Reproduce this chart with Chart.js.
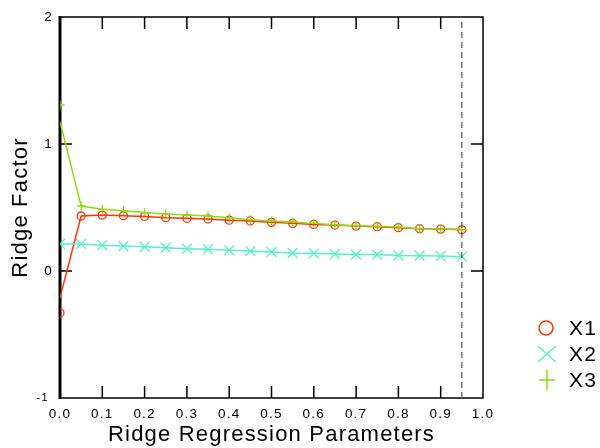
<!DOCTYPE html>
<html>
<head>
<meta charset="utf-8">
<script src="https://cdn.jsdelivr.net/npm/chart.js@4.4.1/dist/chart.umd.min.js"></script>
<style>
  html, body { margin: 0; padding: 0; background: #fff; }
  #wrap { width: 600px; height: 448px; }
</style>
</head>
<body>
<div id="wrap"><canvas id="ridgeChart" width="600" height="448"></canvas></div>
<script>
/* =====================================================
   DATA
===================================================== */
const params = [0, 0.05, 0.1, 0.15, 0.2, 0.25, 0.3, 0.35, 0.4, 0.45,
                0.5, 0.55, 0.6, 0.65, 0.7, 0.75, 0.8, 0.85, 0.9, 0.95];

// marker values
const x1 = [-0.33, 0.433, 0.44, 0.435, 0.43, 0.42, 0.415, 0.41, 0.40, 0.394,
            0.383, 0.375, 0.367, 0.362, 0.354, 0.349, 0.341, 0.333, 0.33, 0.325];
const x2 = [0.213, 0.213, 0.202, 0.197, 0.191, 0.184, 0.176, 0.171, 0.163, 0.157,
            0.15, 0.142, 0.139, 0.134, 0.129, 0.129, 0.123, 0.121, 0.118, 0.113];
const x3 = [1.307, 0.512, 0.486, 0.475, 0.46, 0.449, 0.441, 0.433, 0.42, 0.404,
            0.394, 0.386, 0.375, 0.365, 0.357, 0.352, 0.346, 0.333, 0.33, 0.328];

// fitted curve values (differ from markers only at the first point)
const x1Curve = [-0.21].concat(x1.slice(1));
const x2Curve = x2.slice();
const x3Curve = [1.176].concat(x3.slice(1));

const xTicks = [0, 0.1, 0.2, 0.3, 0.4, 0.5, 0.6, 0.7, 0.8, 0.9, 1.0];
const yTicks = [-1, 0, 1, 2];
const cutoff = 0.95;

const seriesNames = ["X1", "X2", "X3"];
const colors = ["#ff3300", "#55efc8", "#88e010"];
const markers = ["circle", "crossRot", "cross"];

const FONT = "'Liberation Sans', Arial, sans-serif";
const pts = arr => params.map((p, i) => ({ x: p, y: arr[i] }));

/* =====================================================
   FRAME + INWARD TICKS + LEGEND
===================================================== */
const framePlugin = {
  id: "frame",
  beforeDraw(chart) {
    // the original text is set a little wide
    chart.ctx.letterSpacing = "1.2px";
  },
  beforeDatasetsDraw(chart) {
    const { ctx, chartArea: a, scales } = chart;
    const xs = scales.x, ys = scales.y;
    ctx.letterSpacing = "0px";
    ctx.save();
    ctx.strokeStyle = "#000";
    ctx.lineWidth = 1.5;
    ctx.strokeRect(a.left, a.top, a.right - a.left, a.bottom - a.top);
    ctx.lineWidth = 3;
    ctx.beginPath();
    ctx.moveTo(a.left, a.top - 1);
    ctx.lineTo(a.left, a.bottom + 1);
    ctx.stroke();

    ctx.lineWidth = 1.5;
    ctx.beginPath();
    xTicks.slice(1, -1).forEach(v => {
      const px = xs.getPixelForValue(v);
      ctx.moveTo(px, a.top); ctx.lineTo(px, a.top + 12);
      ctx.moveTo(px, a.bottom); ctx.lineTo(px, a.bottom - 12);
    });
    yTicks.slice(1, -1).forEach(v => {
      const py = ys.getPixelForValue(v);
      ctx.moveTo(a.left, py); ctx.lineTo(a.left + 12, py);
      ctx.moveTo(a.right, py); ctx.lineTo(a.right - 12, py);
    });
    ctx.stroke();
    ctx.restore();
  },
  afterDraw(chart) {
    const { ctx } = chart;
    ctx.save();
    ctx.letterSpacing = "1.2px";
    ctx.font = "21px " + FONT;
    ctx.textBaseline = "middle";
    ctx.fillStyle = "#000";
    const rows = [328, 354, 380];
    seriesNames.forEach((name, i) => {
      const y = rows[i];
      const cx = 547;
      ctx.strokeStyle = colors[i];
      ctx.lineWidth = 1.5;
      ctx.beginPath();
      if (markers[i] === "circle") {
        ctx.ellipse(cx - 1, y, 7, 7, 0, 0, Math.PI * 2);
      } else if (markers[i] === "crossRot") {
        ctx.moveTo(cx - 9, y - 8); ctx.lineTo(cx + 9, y + 8);
        ctx.moveTo(cx + 9, y - 8); ctx.lineTo(cx - 9, y + 8);
      } else {
        ctx.moveTo(cx - 8, y); ctx.lineTo(cx + 8, y);
        ctx.moveTo(cx, y - 10); ctx.lineTo(cx, y + 10);
      }
      ctx.stroke();
      ctx.fillText(name, 569, y + 1);
    });
    ctx.restore();
  }
};

/* =====================================================
   CHART
===================================================== */
const curveSet = (arr, i) => ({
  label: seriesNames[i] + " curve",
  data: pts(arr),
  borderColor: colors[i],
  borderWidth: 1.5,
  pointRadius: 0,
  showLine: true,
  tension: 0
});
const markerSet = (arr, i) => ({
  label: seriesNames[i],
  data: pts(arr),
  borderColor: colors[i],
  backgroundColor: "rgba(0,0,0,0)",
  pointStyle: markers[i],
  pointRadius: [4, 7, 4.5][i],
  pointBorderWidth: 1.3,
  showLine: false
});

new Chart(document.getElementById("ridgeChart"), {
  type: "scatter",
  data: {
    datasets: [
      {
        label: "cutoff",
        data: [{ x: cutoff, y: -1 }, { x: cutoff, y: 2 }],
        borderColor: "#555",
        borderWidth: 1.2,
        borderDash: [6, 4],
        pointRadius: 0,
        showLine: true
      },
      curveSet(x2Curve, 1),
      curveSet(x3Curve, 2),
      curveSet(x1Curve, 0),
      markerSet(x2, 1),
      markerSet(x3, 2),
      markerSet(x1, 0)
    ]
  },
  options: {
    responsive: false,
    animation: false,
    layout: { padding: { top: 17, right: 117, left: 0, bottom: 0 } },
    plugins: { legend: { display: false }, tooltip: { enabled: false } },
    scales: {
      x: {
        type: "linear",
        min: 0, max: 1,
        afterBuildTicks: s => { s.ticks = xTicks.map(v => ({ value: v })); },
        afterFit: s => { s.height = 50; },
        grid: { display: false, drawTicks: false },
        border: { display: false },
        ticks: {
          padding: 8,
          color: "#000",
          font: { family: FONT, size: 13.5 },
          callback: v => Number(v).toFixed(1)
        },
        title: {
          display: true,
          text: "Ridge Regression Parameters",
          color: "#000",
          padding: 0,
          font: { family: FONT, size: 22 }
        }
      },
      y: {
        type: "linear",
        min: -1, max: 2,
        afterBuildTicks: s => { s.ticks = yTicks.map(v => ({ value: v })); },
        afterFit: s => { s.width = 60; },
        grid: { display: false, drawTicks: false },
        border: { display: false },
        ticks: {
          padding: 7,
          color: "#000",
          font: c => ({ family: FONT, size: c.tick && c.tick.value === -1 ? 11 : 13.5 }),
          callback: v => (v === -1 ? "-1 " : String(v))
        },
        title: {
          display: true,
          text: "Ridge Factor",
          color: "#000",
          padding: { top: 8, bottom: 0 },
          font: { family: FONT, size: 22 }
        }
      }
    }
  },
  plugins: [framePlugin]
});
</script>
</body>
</html>
